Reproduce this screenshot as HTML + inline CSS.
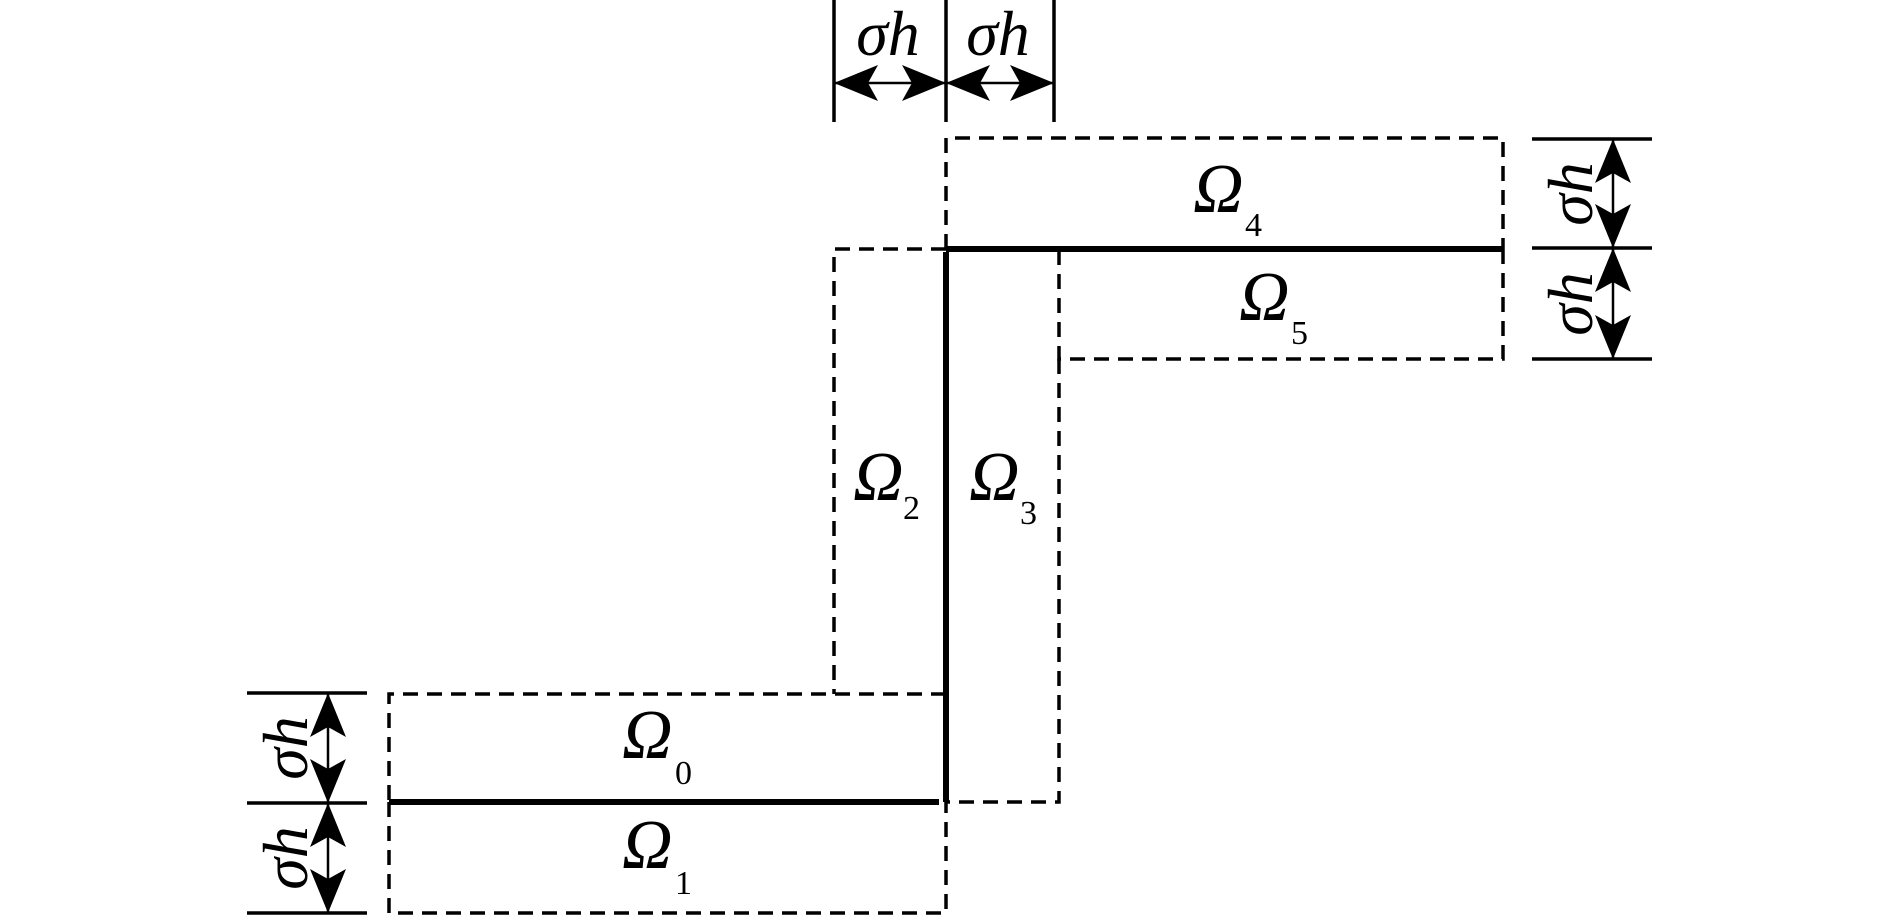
<!DOCTYPE html>
<html><head><meta charset="utf-8"><style>
html,body{margin:0;padding:0;background:#fff;}
svg{display:block;}
text{font-family:"Liberation Serif",serif;font-style:italic;fill:#000;}
.s{font-style:normal;font-size:34px;}
.o{font-size:70px;}
.d{font-size:64px;}
</style></head><body>
<svg width="1890" height="917" viewBox="0 0 1890 917" xmlns="http://www.w3.org/2000/svg">
<g fill="none" stroke="#000" stroke-width="3.5" stroke-dasharray="15,9">
<path d="M946 249 V138 H1503 V249"/>
<path d="M1503 249 V359 H1059 V249"/>
<path d="M946 249 H834 V694"/>
<path d="M1059 359 V802 H946"/>
<path d="M946 694 H389 V802"/>
<path d="M389 802 V913 H946 V802"/>
</g>
<g stroke="#000" stroke-width="6" fill="none">
<path d="M946 249 H1503"/>
<path d="M946 252 V802"/>
<path d="M389 802 H939"/>
</g>
<g stroke="#000" stroke-width="3.5">
<path d="M834 0 V122 M946 0 V122 M1054 0 V122"/>
<path d="M1532 139 H1652 M1532 248 H1652 M1532 359 H1652"/>
<path d="M247 693 H367 M247 803 H367 M247 913 H367"/>
</g>
<g stroke="#000" stroke-width="2.5">
<path d="M834 83 H1054"/>
<path d="M1613 139 V359"/>
<path d="M328 693 V913"/>
</g>
<g fill="#000">
<path d="M834 83 L878 65 L868 83 L878 101 Z"/>
<path d="M946 83 L902 65 L912 83 L902 101 Z"/>
<path d="M946 83 L990 65 L980 83 L990 101 Z"/>
<path d="M1054 83 L1010 65 L1020 83 L1010 101 Z"/>
<path d="M1613 139 L1595 183 L1613 173 L1631 183 Z"/>
<path d="M1613 248 L1595 204 L1613 214 L1631 204 Z"/>
<path d="M1613 248 L1595 292 L1613 282 L1631 292 Z"/>
<path d="M1613 359 L1595 315 L1613 325 L1631 315 Z"/>
<path d="M328 693 L310 737 L328 727 L346 737 Z"/>
<path d="M328 803 L310 759 L328 769 L346 759 Z"/>
<path d="M328 803 L310 847 L328 837 L346 847 Z"/>
<path d="M328 913 L310 869 L328 879 L346 869 Z"/>
</g>
<text class="d" x="888" y="55" text-anchor="middle">σh</text>
<text class="d" x="998" y="55" text-anchor="middle">σh</text>
<text class="d" text-anchor="middle" transform="translate(1592 194) rotate(-90)">σh</text>
<text class="d" text-anchor="middle" transform="translate(1592 304) rotate(-90)">σh</text>
<text class="d" text-anchor="middle" transform="translate(307 748) rotate(-90)">σh</text>
<text class="d" text-anchor="middle" transform="translate(307 858) rotate(-90)">σh</text>
<text class="o" x="622" y="758">Ω</text><text class="s" x="675" y="784">0</text>
<text class="o" x="622" y="868">Ω</text><text class="s" x="675" y="894">1</text>
<text class="o" x="853" y="500">Ω</text><text class="s" x="903" y="519">2</text>
<text class="o" x="969" y="500">Ω</text><text class="s" x="1020" y="524">3</text>
<text class="o" x="1193" y="212">Ω</text><text class="s" x="1245" y="236">4</text>
<text class="o" x="1239" y="320">Ω</text><text class="s" x="1291" y="344">5</text>
</svg>
</body></html>
